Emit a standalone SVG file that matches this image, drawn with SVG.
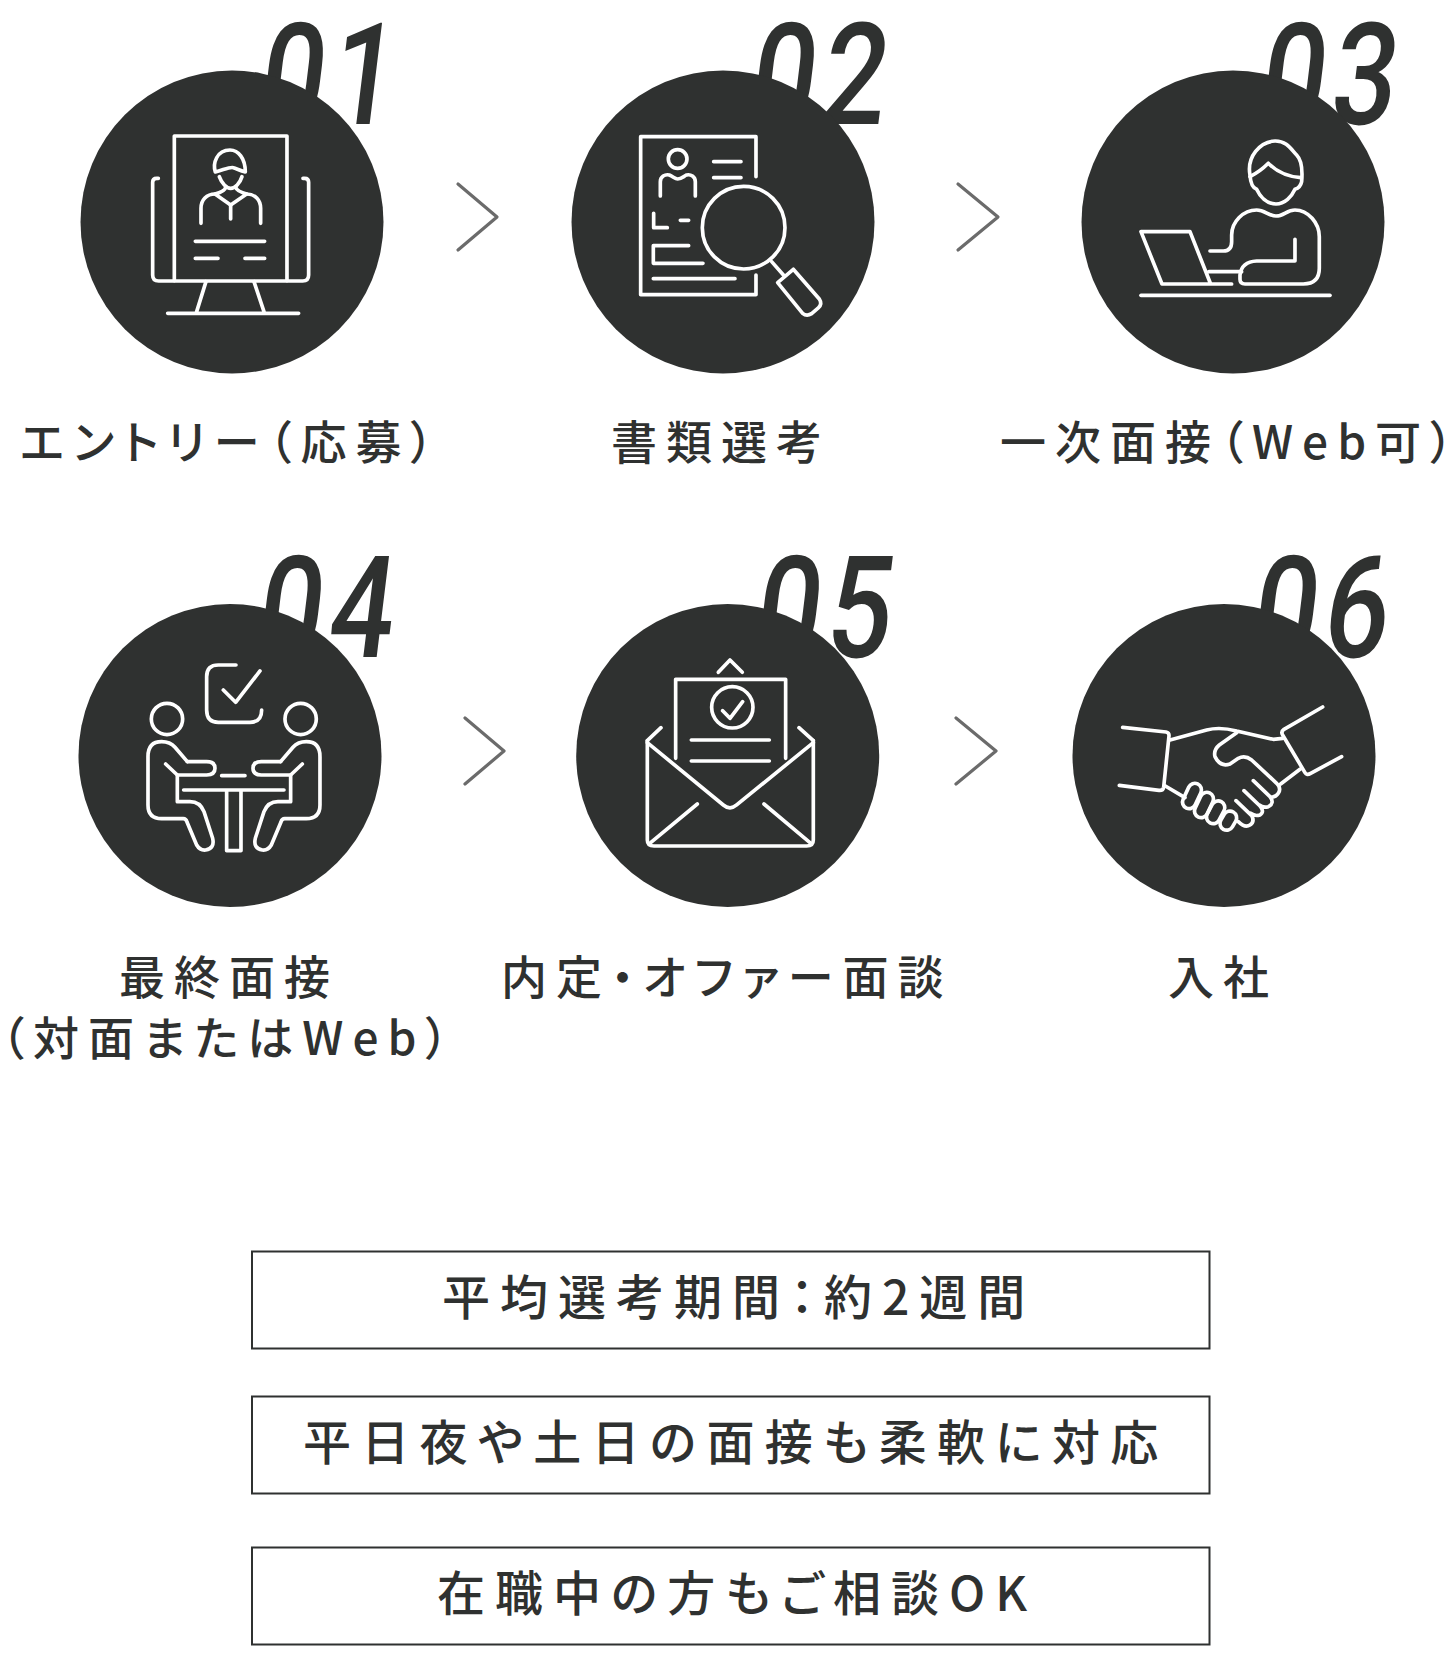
<svg xmlns="http://www.w3.org/2000/svg" width="1453" height="1661" viewBox="0 0 1453 1661">
<style>
.c{fill:#2f3130}
.n{font-family:Roboto,"Liberation Sans",sans-serif;font-size:142px;font-weight:500;fill:#2f3130;letter-spacing:8px}
.i{fill:none;stroke:#fff;stroke-width:11;stroke-linecap:round;stroke-linejoin:round}
.l{font-family:"Noto Sans CJK JP",sans-serif;font-size:46px;font-weight:500;fill:#2f3130;letter-spacing:9px;font-feature-settings:"palt"}
.b{font-family:"Noto Sans CJK JP",sans-serif;font-size:48px;font-weight:500;fill:#2f3130;letter-spacing:10px;font-feature-settings:"palt"}
.r{fill:#fff;stroke:#2f3130;stroke-width:2}
.a{fill:none;stroke:#6b6b6b;stroke-width:3.2;stroke-linecap:round;stroke-linejoin:round}
</style>
<g id="connectors">
<path class="a" d="M458,184L497,217L458,250"/>
<path class="a" d="M958,184L998,217L958,250"/>
<path class="a" d="M465,718L504,751L465,784"/>
<path class="a" d="M956,718L996,751L956,784"/>
</g>
<g id="step1">
<text class="n" transform="translate(256,124) skewX(-7) scale(.8,1)">01</text>
<circle class="c" cx="232" cy="222" r="151.5"/>
<g class="i" transform="translate(60,0) scale(.3333)">
<path d="M343,842V408H681V842"/>
<path d="M295,535h-5q-12,0-12,12V825q0,18,18,18H728q18,0,18-18V547q0-12-12-12h-5"/>
<path d="M438,845L410,935M582,845L612,935M323,940H716"/>
<path d="M406,724H614M406,775H474M555,775H614"/>
<path d="M466,516C458,490 470,450 510,450C535,450 556,475 556,516C540,512 530,506 520,503C510,500 490,510 466,516Z"/>
<path d="M478,530C485,550 500,565 512,565C525,565 540,550 546,530"/>
<path d="M497,562C495,572 480,578 465,582L512,615L560,582C545,578 530,572 527,562"/>
<path d="M423,670V625C423,600 440,582 465,582M602,670V625C602,600 585,582 560,582M512,615V657"/>
</g>
<text class="l" x="20" y="459">エントリー（応募）</text>
</g>
<g id="step2">
<text class="n" transform="translate(747,124) skewX(-7) scale(.8,1)">02</text>
<circle class="c" cx="723" cy="222" r="151.5"/>
<g class="i" transform="translate(550,0) scale(.3333)">
<path d="M618,530V410H272V884H618V825"/>
<circle cx="383" cy="477" r="28"/>
<path d="M331,588V545C331,530 345,522 358,525C370,530 375,537 383,537C392,537 400,530 410,525C422,522 436,530 436,545V588"/>
<path d="M491,485H573M491,533H573M311,640V683H352M391,661H416M416,737H310V790H459M310,836H555"/>
<circle cx="581" cy="683" r="124"/>
<path d="M665,785L703,828"/>
<path d="M683,848L730,808L808,897Q818,912 805,924L785,941Q770,950 758,940Z"/>
</g>
<text class="l" x="611" y="459">書類選考</text>
</g>
<g id="step3">
<text class="n" transform="translate(1257,124) skewX(-7) scale(.8,1)">03</text>
<circle class="c" cx="1233" cy="222" r="151.5"/>
<g class="i" transform="translate(1060,0) scale(.3333)">
<path d="M515,852H306L243,695H390L452,852M447,815H545"/>
<path d="M570,525C560,470 600,425 645,423C680,422 695,450 710,465C725,480 728,510 725,545C722,560 715,565 705,568C695,590 675,612 648,612C620,612 600,590 590,568C580,565 572,555 570,525Z"/>
<path d="M570,530C590,520 610,505 625,490C650,515 685,530 722,533"/>
<path d="M450,753H490Q515,753 515,725V705C515,665 550,630 590,630C615,630 625,648 648,648C672,648 680,630 705,630C745,630 778,670 778,710V805Q778,852 730,852H555Q540,852 540,838V825Q545,785 590,783H705V718"/>
<path d="M243,886H810"/>
</g>
<text class="l" x="1000" y="459">一次面接（Web可）</text>
</g>
<g id="step4">
<text class="n" transform="translate(254,657) skewX(-7) scale(.8,1)">04</text>
<circle class="c" cx="230" cy="755.5" r="151.5"/>
<g class="i" transform="translate(60,530) scale(.3333)">
<path d="M528,405H475Q440,405 440,440V540Q440,577 475,577H570Q605,577 605,540"/>
<path d="M490,480L527,517L600,423"/>
<circle cx="321" cy="567" r="47"/><circle cx="722" cy="567" r="47"/>
<path d="M382,695L345,652Q330,635 305,635Q264,635 264,680V825Q264,866 305,866H370Q378,866 381,876L410,945Q420,962 437,960Q465,955 458,925L432,845Q420,815 390,815H352V735"/>
<path d="M382,695H440Q465,695 465,715Q465,735 440,735H352L317,702"/>
<g transform="matrix(-1 0 0 1 1044 0)">
<path d="M382,695L345,652Q330,635 305,635Q264,635 264,680V825Q264,866 305,866H370Q378,866 381,876L410,945Q420,962 437,960Q465,955 458,925L432,845Q420,815 390,815H352V735"/>
<path d="M382,695H440Q465,695 465,715Q465,735 440,735H352L317,702"/>
</g>
<path d="M485,737H555M371,780H672M500,782V962H543V782"/>
</g>
<text class="l" x="119" y="994">最終面接</text>
<text class="l" x="1" y="1055">（対面またはWeb）</text>
</g>
<g id="step5">
<text class="n" transform="translate(752,657) skewX(-7) scale(.8,1)">05</text>
<circle class="c" cx="727.7" cy="755.5" r="151.5"/>
<g class="i" transform="translate(560,530) scale(.3333)">
<path d="M475,427L510,390L547,427"/>
<path d="M347,685V448H677V685"/>
<circle cx="517" cy="532" r="62"/>
<path d="M488,542L510,565L548,515M394,630H628M394,693H628"/>
<path d="M303,593L262,632M717,593L760,632"/>
<path d="M262,632V930Q262,948 282,948H740Q760,948 760,930V632"/>
<path d="M262,638L490,825Q510,842 530,825L760,638"/>
<path d="M272,938L412,822M750,938L612,822"/>
</g>
<text class="l" x="501" y="994">内定・オファー面談</text>
</g>
<g id="step6">
<text class="n" transform="translate(1249,657) skewX(-7) scale(.8,1)">06</text>
<circle class="c" cx="1224" cy="755.5" r="151.5"/>
<g class="i" transform="translate(1060,530) scale(.3333)">
<path d="M188,592L318,606Q328,608 327,618L311,772Q309,782 297,781L178,766"/>
<path d="M788,531L672,598Q662,605 668,615L735,728Q740,737 752,730L845,680"/>
<path d="M330,630L440,600Q480,590 530,603L640,628L668,625M316,768L375,803"/>
<path d="M530,608L478,645Q460,660 465,680Q480,712 510,702L535,685Q555,675 575,690L650,760Q665,775 655,790Q645,805 630,800M580,752L630,800Q645,820 625,830Q610,835 598,825M552,782L600,828Q615,845 600,855Q585,860 572,850M528,812L575,857Q585,875 570,885Q555,895 535,875M662,762L720,718"/>
<rect x="-20" y="-40" width="40" height="80" rx="20" transform="translate(396,798) rotate(25)"/>
<rect x="-20" y="-40" width="40" height="80" rx="20" transform="translate(432,825) rotate(25)"/>
<rect x="-20" y="-36" width="40" height="72" rx="20" transform="translate(467,847) rotate(28)"/>
<rect x="-20" y="-30" width="40" height="60" rx="20" transform="translate(505,872) rotate(30)"/>
</g>
<text class="l" x="1168" y="994">入社</text>
</g>
<g id="note1">
<rect class="r" x="252" y="1251.5" width="957.5" height="97"/>
<text class="b" x="442" y="1315">平均選考期間：約2週間</text>
</g>
<g id="note2">
<rect class="r" x="252" y="1396.5" width="957.5" height="97"/>
<text class="b" x="303" y="1460" style="letter-spacing:10.3px">平日夜や土日の面接も柔軟に対応</text>
</g>
<g id="note3">
<rect class="r" x="252" y="1547.5" width="957.5" height="97"/>
<text class="b" x="437" y="1611">在職中の方もご相談OK</text>
</g>
</svg>
